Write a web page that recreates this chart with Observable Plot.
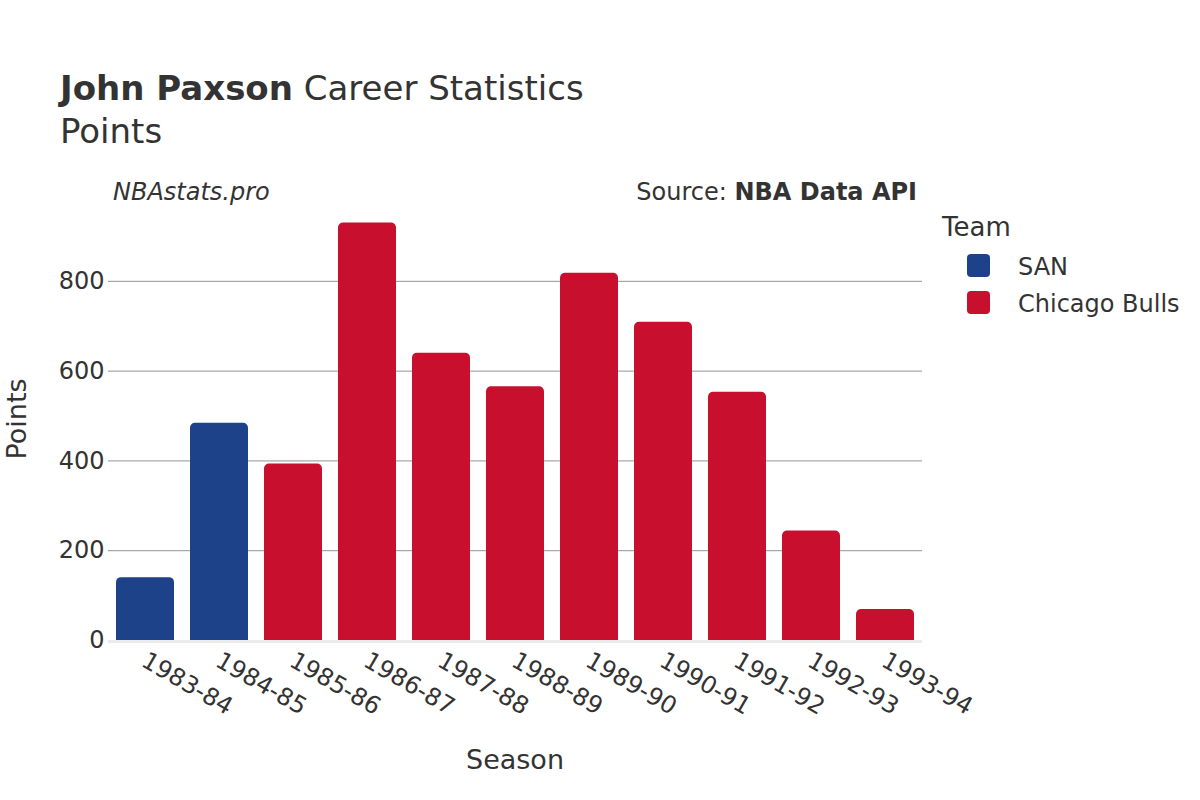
<!DOCTYPE html>
<html><head><meta charset="utf-8">
<script src="https://cdn.jsdelivr.net/npm/d3@7"></script>
<script src="https://cdn.jsdelivr.net/npm/@observablehq/plot@0.6"></script>
<style>body{margin:0;background:#fff;} #chart{position:relative;width:1200px;height:800px;}</style>
</head><body><div id="chart"></div>
<script>
const seasons = ["1983-84","1984-85","1985-86","1986-87","1987-88","1988-89","1989-90","1990-91","1991-92","1992-93","1993-94"];
const teams = ["SAN","SAN","Chicago Bulls","Chicago Bulls","Chicago Bulls","Chicago Bulls","Chicago Bulls","Chicago Bulls","Chicago Bulls","Chicago Bulls","Chicago Bulls"];
const points = [140, 484, 393, 930, 640, 565, 818, 709, 553, 244, 69];
const teamNames = ["SAN", "Chicago Bulls"];
const teamColors = ["#1d428a", "#c8102e"];
const yTicks = [0, 200, 400, 600, 800];

const data = seasons.map((s, i) => ({season: s, team: teams[i], points: points[i]}));
const font = "'DejaVu Sans', sans-serif";
const ink = "#333";

const svg = Plot.plot({
  width: 1200, height: 800,
  marginLeft: 108, marginRight: 278, marginTop: 200, marginBottom: 160,
  style: {fontFamily: font, fontSize: "24px", color: ink, background: "#fff"},
  x: {domain: seasons, paddingInner: 0.216, paddingOuter: 0.108, axis: null},
  y: {domain: [0, 980], axis: null},
  color: {domain: teamNames, range: teamColors},
  marks: [
    Plot.ruleY(yTicks.filter(t => t > 0), {stroke: "#939393", strokeWidth: 1}),
    Plot.ruleY([0], {stroke: "#ebebeb", strokeWidth: 3, dy: 1}),
    Plot.barY(data, {x: "season", y: "points", fill: "team", ry1: 5}),
    Plot.axisY({ticks: yTicks, tickSize: 0, tickPadding: 4, label: null, fontSize: 24}),
    Plot.text(seasons, {x: d => d, frameAnchor: "bottom", rotate: 30, textAnchor: "start", lineAnchor: "top", dx: 3, dy: 10, fontSize: 24})
  ]
});

const s = d3.select(svg);
const add = (x, y, size, anchor) => s.append("text").attr("x", x).attr("y", y)
  .attr("font-size", size).attr("font-family", font).attr("fill", ink).attr("text-anchor", anchor || "start");

const t = add(60, 100, 34);
t.append("tspan").attr("font-weight", "bold").text("John Paxson");
t.append("tspan").text(" Career Statistics");
add(60, 143, 34).text("Points");
add(113, 200, 24).attr("font-style", "italic").text("NBAstats.pro");
const src = add(917, 200, 24, "end");
src.append("tspan").text("Source: ");
src.append("tspan").attr("font-weight", "bold").text("NBA Data API");
add(515, 769, 27, "middle").text("Season");
add(0, 0, 27, "middle").attr("transform", "translate(26,419) rotate(-90)").text("Points");

add(942, 236, 26).text("Team");
teamNames.forEach((name, i) => {
  s.append("rect").attr("x", 967).attr("y", 254 + i * 37).attr("width", 23).attr("height", 23)
    .attr("rx", 4).attr("fill", teamColors[i]);
  add(1018, 275 + i * 37, 24).text(name);
});

document.getElementById("chart").appendChild(svg);
</script>
</body></html>
